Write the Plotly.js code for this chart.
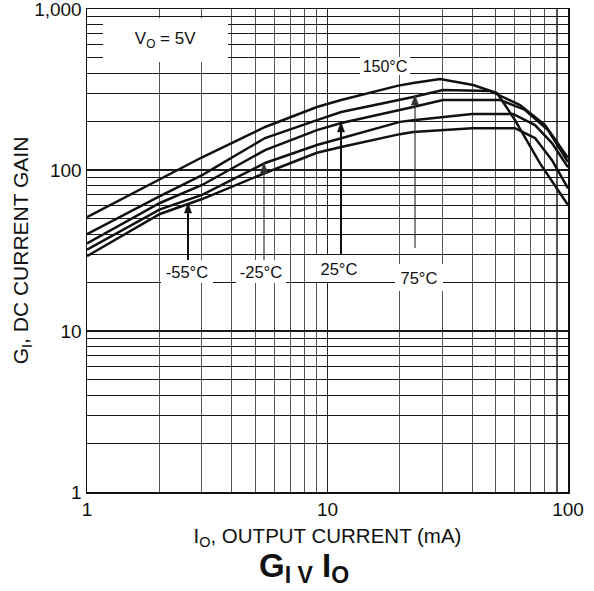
<!DOCTYPE html>
<html><head><meta charset="utf-8">
<script src="https://cdn.plot.ly/plotly-3.0.1.min.js"></script>
<style>html,body{margin:0;padding:0;background:#fff}#chart{width:594px;height:591px}</style>
</head><body><div id="chart"></div>
<script>
// ---- data ----
const seriesNames = ['150°C', '75°C', '25°C', '-25°C', '-55°C'];
const io150 = [1, 2.01, 3.01, 5.5, 9.04, 11.4, 15, 19.5, 22.7, 29.4, 40.3, 50.7, 60.2, 76.5, 100];
const gi150 = [51, 88, 120, 185, 246, 272, 301, 333, 347, 367, 337, 301, 204, 110, 60.6];
const io75 = [1, 2.01, 3.01, 5.5, 9.04, 11.4, 22.7, 30.2, 47.4, 63.2, 80.3, 100];
const gi75 = [40, 68.9, 93, 158, 204, 229, 284, 314, 310, 253, 190, 119];
const io25 = [1, 2.01, 3.01, 5.5, 9.04, 11.4, 22.7, 30.2, 52.2, 66.3, 82.6, 100];
const gi25 = [35, 62.4, 80.7, 133, 177, 196, 246, 272, 272, 236, 177, 112];
const ioM25 = [1, 2.01, 3.01, 5.5, 9.04, 11.4, 20, 22.7, 39.9, 59.1, 72.9, 85.8, 100];
const giM25 = [32, 57, 70, 110.5, 143, 158, 199, 204, 223, 223, 190, 147, 104];
const ioM55 = [1, 2.01, 3.01, 5.5, 9.04, 11.4, 20, 22.7, 39.9, 60.2, 72.9, 85.8, 100];
const giM55 = [29.2, 53.3, 66, 95.8, 128, 139, 167, 172, 182, 182, 158, 115, 77];
const xTickVals = [1, 10, 100];
const xTickText = ['1', '10', '100'];
const xMinorVals = [2,3,4,5,6,7,8,9,20,30,40,50,60,70,80,90];
const yTickVals = [1, 10, 100, 1000];
const yTickText = ['1', '10', '100', '1,000'];
const yMinorVals = [2,3,4,5,6,7,8,9,20,30,40,50,60,70,80,90,200,300,400,500,600,700,800,900];

// ---- layout helpers (pixel -> paper) ----
const L = 87, R = 568, T = 9, B = 492;
const xp = px => (px - L) / (R - L);
const yp = py => (B - py) / (B - T);
const FONT = 'Liberation Sans, Arial, sans-serif';

const xs = [io150, io75, io25, ioM25, ioM55];
const ys = [gi150, gi75, gi25, giM25, giM55];
const traces = xs.map((x, i) => ({
  x: x, y: ys[i], name: seriesNames[i], type: 'scatter', mode: 'lines',
  line: {color: '#111', width: 2.5}, hoverinfo: 'skip'
}));

function box(text, cx, cy, w, h, size) {
  return {xref: 'paper', yref: 'paper', x: xp(cx), y: yp(cy), xanchor: 'center', yanchor: 'middle',
    text: text, showarrow: false, bgcolor: '#fff', borderpad: 0, borderwidth: 0,
    width: w, height: h, font: {family: FONT, size: size, color: '#111'}};
}
// arrow = vertical line shape + filled triangular head (pixel positions converted to paper)
function arrowShapes(x, tip, tail, w, c) {
  const hw = 3.6, hl = 10;
  return [
    {type: 'line', xref: 'paper', yref: 'paper', x0: xp(x), x1: xp(x), y0: yp(tail), y1: yp(tip + hl - 1),
      line: {color: c, width: w}, layer: 'above'},
    {type: 'path', xref: 'paper', yref: 'paper', layer: 'above',
      path: `M ${xp(x - hw)} ${yp(tip + hl)} L ${xp(x)} ${yp(tip)} L ${xp(x + hw)} ${yp(tip + hl)} Z`,
      fillcolor: c, line: {color: c, width: 0.5}}
  ];
}

const annotations = [
  box('V<sub>O</sub> = 5V', 165.5, 40, 125, 44, 17),
  box(seriesNames[0], 385, 66, 50, 18, 16),
  box(seriesNames[4], 187, 271.5, 52, 23, 16.5),
  box(seriesNames[3], 261, 271.5, 50, 23, 16.5),
  box(seriesNames[2], 339, 268.5, 48, 27, 16.5),
  box(seriesNames[1], 419, 277, 48, 27, 16.5)
];
const shapes = [].concat(
  arrowShapes(188, 203, 260, 2, '#111'),
  arrowShapes(264, 163, 260, 1.2, '#333'),
  arrowShapes(341, 122, 255, 2, '#111'),
  arrowShapes(415, 95, 248, 1.2, '#333')
);

const layout = {
  width: 594, height: 591,
  margin: {l: L, r: 594 - R, t: T, b: 591 - B, pad: 0},
  paper_bgcolor: '#fff', plot_bgcolor: '#fff',
  showlegend: false,
  font: {family: FONT, color: '#111'},
  title: {text: 'G<sub>I V</sub> I<sub>O</sub>', font: {family: FONT, size: 33, weight: 'bold', color: '#111'},
    x: 0.512, xref: 'container', xanchor: 'center', y: 1 - 565 / 591, yref: 'container', yanchor: 'middle'},
  xaxis: {type: 'log', range: [0, 2], tickmode: 'array', tickvals: xTickVals, ticktext: xTickText,
    showgrid: true, gridcolor: '#222', gridwidth: 1.1, zeroline: false,
    minor: {tickmode: 'array', tickvals: xMinorVals, showgrid: true, gridcolor: '#555', gridwidth: 1.1, ticks: ''},
    showline: true, mirror: true, linecolor: '#111', linewidth: 1.5, ticks: '',
    ticklabeloverflow: 'allow', tickfont: {family: FONT, size: 19, color: '#111'},
    title: {text: 'I<sub>O</sub>, OUTPUT CURRENT (mA)', font: {family: FONT, size: 20.5, color: '#111'}, standoff: 9}},
  yaxis: {type: 'log', range: [0, 3], tickmode: 'array', tickvals: yTickVals, ticktext: yTickText,
    showgrid: true, gridcolor: '#1a1a1a', gridwidth: 1.1, zeroline: false,
    minor: {tickmode: 'array', tickvals: yMinorVals, showgrid: true, gridcolor: '#1a1a1a', gridwidth: 1.1, ticks: ''},
    showline: true, mirror: true, linecolor: '#111', linewidth: 1.5, ticks: '',
    ticklabeloverflow: 'allow', tickfont: {family: FONT, size: 19, color: '#111'},
    title: {text: 'G<sub>I</sub>, DC CURRENT GAIN', font: {family: FONT, size: 21, color: '#111'}, standoff: 0}},
  annotations: annotations,
  shapes: shapes
};

Plotly.newPlot('chart', traces, layout, {staticPlot: true, displayModeBar: false});
</script>
</body></html>
